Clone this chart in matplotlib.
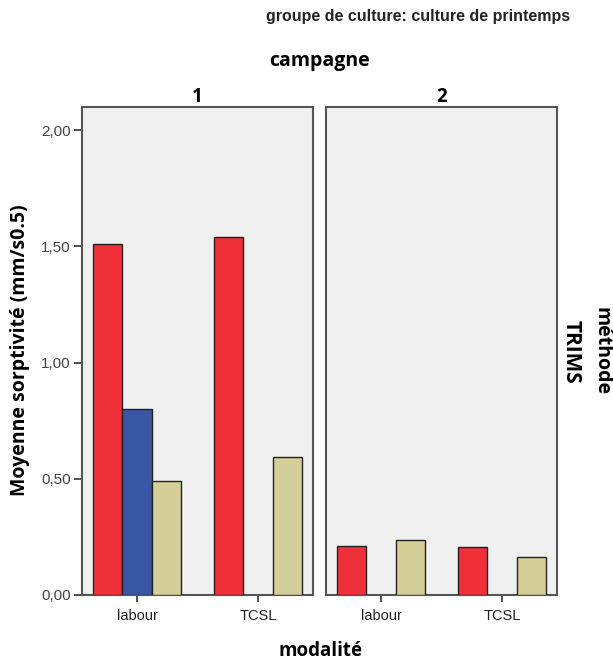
import numpy as np
import matplotlib
matplotlib.use("Agg")
import matplotlib.pyplot as plt

plt.rcParams['font.family'] = ['Liberation Sans', 'DejaVu Sans']

categories = ["labour", "TCSL"]
campagnes = ["1", "2"]
series_names = ["groupe A", "groupe B", "groupe C"]
values_c1 = {
    "groupe A": [1.51, 1.54],
    "groupe B": [0.80, np.nan],
    "groupe C": [0.49, 0.595],
}
values_c2 = {
    "groupe A": [0.21, 0.207],
    "groupe B": [np.nan, np.nan],
    "groupe C": [0.237, 0.164],
}
colors = ["#EF3039", "#3B55A5", "#D4CF98"]
yticks = [0, 0.5, 1.0, 1.5, 2.0]
ytick_labels = ["0,00", "0,50", "1,00", "1,50", "2,00"]

fig = plt.figure(figsize=(6.13, 6.68), dpi=100)
W, H = 613, 668

def ax_rect(l, t, r, b):
    return [l / W, 1 - b / H, (r - l) / W, (b - t) / H]

ax1 = fig.add_axes(ax_rect(82, 107, 313, 595))
ax2 = fig.add_axes(ax_rect(326, 107, 557, 595))

bw = 0.244
x = np.arange(len(categories))
for ax, vals, lab in [(ax1, values_c1, campagnes[0]), (ax2, values_c2, campagnes[1])]:
    ax.set_facecolor("#F0F0F0")
    for i, name in enumerate(series_names):
        ax.bar(x + (i - 1) * bw, vals[name], width=bw, color=colors[i],
               edgecolor="#222222", linewidth=1.0, zorder=3)
    ax.set_xlim(-0.455, 1.455)
    ax.set_ylim(0, 2.10)
    ax.set_xticks(x)
    ax.set_xticklabels(categories, fontsize=10.5, color="#222222")
    ax.tick_params(axis="x", length=5, width=1.2, color="#333333", pad=5)
    for sp in ax.spines.values():
        sp.set_color("#555555")
        sp.set_linewidth(1.5)
    ax.set_title(lab, fontsize=13.5, fontweight="bold", pad=3,
                 family=["Open Sans", "DejaVu Sans"])

ax1.set_yticks(yticks)
ax1.set_yticklabels(ytick_labels, fontsize=11, color="#444444")
ax1.tick_params(axis="y", length=6, width=1.2, color="#333333", pad=2)
ax2.set_yticks([])

bold_fam = ["Open Sans", "DejaVu Sans"]
fig.text(20 / W, 1 - 350 / H, "Moyenne sorptivité (mm/s0.5)", rotation=90,
         ha="center", va="center", fontsize=14, fontweight="bold", family=bold_fam)
fig.text(320 / W, 1 - 651 / H, "modalité", ha="center", va="center",
         fontsize=13.5, fontweight="bold", family=bold_fam)
fig.text(319 / W, 1 - 61 / H, "campagne", ha="center", va="center",
         fontsize=14, fontweight="bold", family=bold_fam)
fig.text(418 / W, 1 - 16 / H, "groupe de culture: culture de printemps",
         ha="center", va="center", fontsize=11.5, fontweight="bold", color="#222222")
fig.text(571 / W, 1 - 352 / H, "TRIMS", rotation=-90, ha="center", va="center",
         fontsize=15, fontweight="bold", family=bold_fam)
fig.text(602 / W, 1 - 351 / H, "méthode", rotation=-90, ha="center", va="center",
         fontsize=14, fontweight="bold", family=bold_fam)

fig.savefig("out.png", dpi=100)
